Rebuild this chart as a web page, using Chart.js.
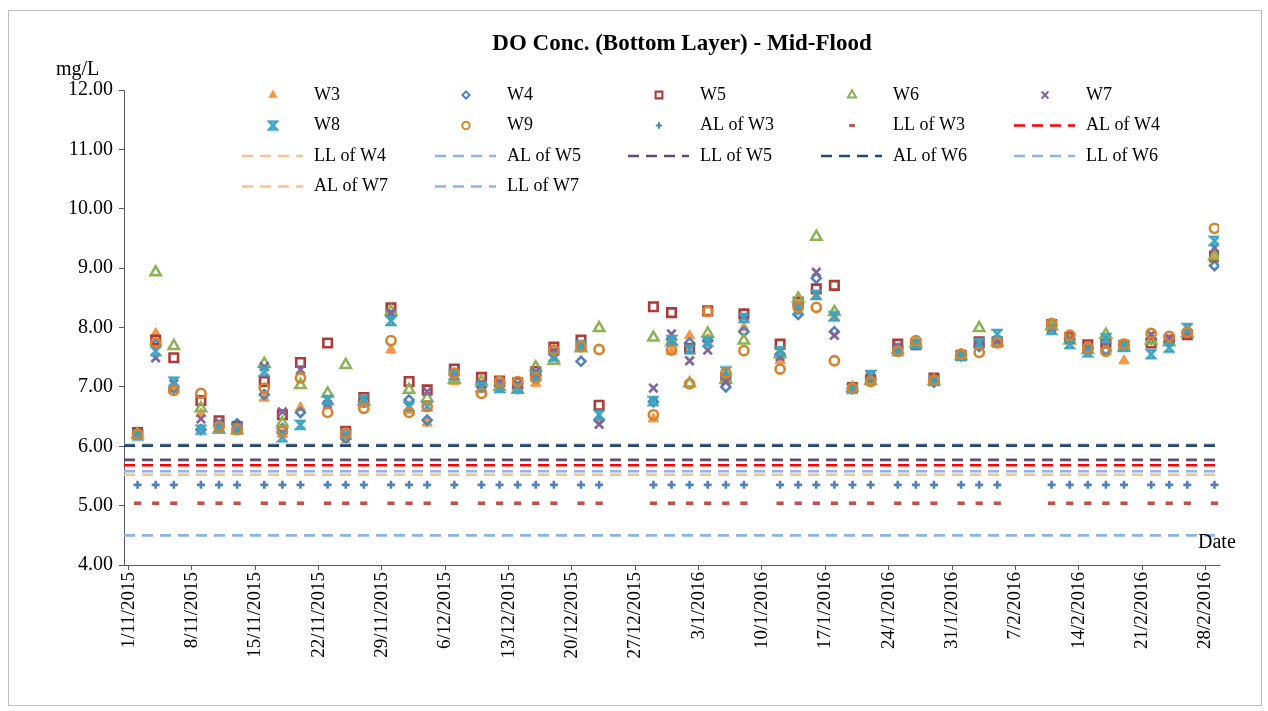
<!DOCTYPE html>
<html>
<head>
<meta charset="utf-8">
<title>DO Conc. (Bottom Layer) - Mid-Flood</title>
<script src="https://cdn.jsdelivr.net/npm/chart.js@4.4.1/dist/chart.umd.min.js"></script>
<style>
  html, body { margin: 0; padding: 0; background: #fff; }
  #wrap { width: 1268px; height: 711px; }
</style>
</head>
<body>
<div id="wrap"><canvas id="myChart" width="1268" height="711"></canvas></div>
<script>
// sampling dates (d/m/yyyy)
var sampleDates = ['2/11/2015', '4/11/2015', '6/11/2015', '9/11/2015', '11/11/2015', '13/11/2015',
    '16/11/2015', '18/11/2015', '20/11/2015', '23/11/2015', '25/11/2015', '27/11/2015',
    '30/11/2015', '2/12/2015', '4/12/2015', '7/12/2015', '10/12/2015', '12/12/2015',
    '14/12/2015', '16/12/2015', '18/12/2015', '21/12/2015', '23/12/2015', '29/12/2015',
    '31/12/2015', '2/1/2016', '4/1/2016', '6/1/2016', '8/1/2016', '12/1/2016',
    '14/1/2016', '16/1/2016', '18/1/2016', '20/1/2016', '22/1/2016', '25/1/2016',
    '27/1/2016', '29/1/2016', '1/2/2016', '3/2/2016', '5/2/2016', '11/2/2016',
    '13/2/2016', '15/2/2016', '17/2/2016', '19/2/2016', '22/2/2016', '24/2/2016',
    '26/2/2016', '29/2/2016'];

var w3 = [6.20, 7.90, 6.95, 6.55, 6.30, 6.25, 6.81, 6.20, 6.65, 6.75, 6.08, 6.70, 7.62, 6.60, 6.39, 7.09, 6.95,
    7.05, 7.00, 7.06, 7.60, 7.68, 6.47, 6.46, 7.60, 7.86, 7.80, 7.15, 8.00, 7.44, 8.45, 8.52, 8.16, 6.98,
    7.10, 7.62, 7.75, 7.10, 7.52, 7.70, 7.72, 8.00, 7.78, 7.65, 7.75, 7.44, 7.82, 7.78, 7.90, 9.15];
var w4 = [6.22, 7.71, 6.98, 6.28, 6.35, 6.38, 6.87, 6.30, 6.57, 6.72, 6.13, 6.75, 8.20, 6.78, 6.44, 7.20, 7.00,
    7.02, 6.97, 7.20, 7.55, 7.43, 6.44, 6.75, 7.80, 7.74, 7.78, 7.00, 7.93, 7.55, 8.22, 8.83, 7.93, 6.97,
    7.15, 7.65, 7.72, 7.08, 7.52, 7.68, 7.77, 8.03, 7.80, 7.63, 7.62, 7.70, 7.80, 7.76, 7.90, 9.04];
var w5 = [6.23, 7.79, 7.49, 6.77, 6.43, 6.33, 7.09, 6.53, 7.41, 7.74, 6.25, 6.82, 8.33, 7.09, 6.95, 7.30, 7.16,
    7.10, 7.07, 7.26, 7.67, 7.79, 6.69, 8.35, 8.25, 7.65, 8.28, 7.15, 8.23, 7.72, 8.43, 8.65, 8.71, 6.99,
    7.12, 7.72, 7.71, 7.15, 7.53, 7.76, 7.76, 8.05, 7.83, 7.71, 7.74, 7.70, 7.74, 7.79, 7.88, 9.20];
var w6 = [6.20, 8.93, 7.69, 6.64, 6.28, 6.27, 7.39, 6.39, 7.03, 6.89, 7.37, 6.75, 8.27, 6.95, 6.81, 7.12, 7.09,
    7.00, 6.95, 7.33, 7.44, 7.65, 7.99, 7.83, 7.75, 7.06, 7.90, 7.12, 7.78, 7.55, 8.49, 9.53, 8.26, 6.98,
    7.10, 7.62, 7.73, 7.10, 7.52, 7.99, 7.75, 8.02, 7.78, 7.62, 7.88, 7.66, 7.78, 7.75, 7.90, 9.20];
var w7 = [6.21, 7.49, 7.05, 6.46, 6.40, 6.32, 7.34, 6.58, 7.29, 6.70, 6.18, 6.78, 8.24, 6.67, 6.92, 7.25, 7.05,
    7.08, 7.05, 7.25, 7.60, 7.72, 6.37, 6.98, 7.89, 7.44, 7.62, 7.09, 8.18, 7.51, 8.35, 8.93, 7.87, 6.97,
    7.18, 7.68, 7.70, 7.12, 7.51, 7.70, 7.78, 7.98, 7.80, 7.65, 7.70, 7.67, 7.88, 7.82, 7.90, 9.34];
var w8 = [6.18, 7.60, 7.09, 6.28, 6.32, 6.30, 7.26, 6.15, 6.36, 6.78, 6.20, 6.78, 8.11, 6.67, 6.67, 7.20, 7.00,
    6.98, 6.98, 7.18, 7.51, 7.70, 6.53, 6.76, 7.79, 7.63, 7.76, 7.26, 8.16, 7.60, 8.30, 8.55, 8.19, 6.97,
    7.20, 7.60, 7.72, 7.10, 7.52, 7.74, 7.89, 7.96, 7.72, 7.58, 7.82, 7.68, 7.55, 7.66, 7.99, 9.46];
var w9 = [6.20, 7.74, 6.94, 6.89, 6.33, 6.28, 6.98, 6.25, 7.15, 6.57, 6.22, 6.64, 7.78, 6.57, 6.67, 7.23, 6.89,
    7.09, 7.09, 7.15, 7.62, 7.68, 7.63, 6.53, 7.62, 7.05, 8.27, 7.23, 7.61, 7.30, 8.34, 8.34, 7.44, 6.98,
    7.09, 7.60, 7.78, 7.11, 7.55, 7.58, 7.74, 8.07, 7.87, 7.66, 7.60, 7.72, 7.90, 7.85, 7.92, 9.67];

// action / limit levels (mg/L)
var alW3 = 5.35, llW3 = 5.04;
var alW4 = 5.68, llW4 = 6.03;
var alW5 = 5.58, llW5 = 5.77;
var alW6 = 6.01, llW6 = 4.50;
var alW7 = 5.52, llW7 = 4.50;

var tickLabels = ['1/11/2015', '8/11/2015', '15/11/2015', '22/11/2015', '29/11/2015', '6/12/2015',
    '13/12/2015', '20/12/2015', '27/12/2015', '3/1/2016', '10/1/2016', '17/1/2016', '24/1/2016',
    '31/1/2016', '7/2/2016', '14/2/2016', '21/2/2016', '28/2/2016'];
var yTicks = [4, 5, 6, 7, 8, 9, 10, 11, 12];

var serif = '"Liberation Serif", "Times New Roman", serif';

// days since 1/11/2015
function dayNum(s) {
    var p = s.split('/').map(Number);
    return (Date.UTC(p[2], p[1] - 1, p[0]) - Date.UTC(2015, 10, 1)) / 86400000;
}

function points(values) {
    return sampleDates.map(function(d, i) { return { x: dayNum(d), y: values[i] }; });
}

function hourglass(color, size) {
    var c = document.createElement('canvas');
    c.width = size; c.height = size;
    var g = c.getContext('2d');
    var a = 2, b = size - 2;
    g.strokeStyle = color;
    g.lineWidth = 2.5;
    g.beginPath();
    g.moveTo(a, a); g.lineTo(b, a); g.lineTo(a, b); g.lineTo(b, b); g.closePath();
    g.stroke();
    return c;
}

document.addEventListener('DOMContentLoaded', function() {
    var xMin = -0.5, xMax = 120.5;
    var none = 'rgba(0,0,0,0)';

    function markers(label, values, style, color, fill, r, bw) {
        return {
            label: label, data: points(values), showLine: false,
            pointStyle: style, pointRadius: r, pointHoverRadius: r,
            borderColor: color, backgroundColor: fill, borderWidth: bw, pointBorderWidth: bw
        };
    }
    function level(label, value, color) {
        return {
            label: label, data: [{ x: xMin, y: value }, { x: xMax, y: value }], showLine: true,
            borderColor: color, backgroundColor: color, borderWidth: 2.6, borderDash: [11, 7],
            pointRadius: 0, pointHoverRadius: 0
        };
    }
    function constPoints(v) { return sampleDates.map(function() { return v; }); }

    var datasets = [
        markers('W3', w3, 'triangle', '#F79646', '#F79646', 6, 1),
        markers('W4', w4, 'rectRot', '#4F81BD', none, 4.5, 2.5),
        markers('W5', w5, 'rect', '#B03A37', none, 6, 2.6),
        markers('W6', w6, 'triangle', '#8DB254', none, 6, 2.5),
        markers('W7', w7, 'crossRot', '#8064A2', none, 6, 2.6),
        markers('W8', w8, hourglass('#3CA3C0', 12), '#3CA3C0', none, 6, 2.5),
        markers('W9', w9, 'circle', '#D9822B', none, 4.6, 2.6),
        markers('AL of W3', constPoints(alW3), 'cross', '#4F81BD', none, 4, 2.6),
        markers('LL of W3', constPoints(llW3), 'line', '#C0504D', none, 3.6, 3.6),
        level('AL of W4', alW4, '#FF0000'),
        level('LL of W4', llW4, '#FAC090'),
        level('AL of W5', alW5, '#8EB4E3'),
        level('LL of W5', llW5, '#604A7B'),
        level('AL of W6', alW6, '#1F497D'),
        level('LL of W6', llW6, '#8EB4E3'),
        level('AL of W7', alW7, '#FAC090'),
        level('LL of W7', llW7, '#8EB4E3')
    ];
    // later series on top, like the spreadsheet
    datasets.forEach(function(ds, i) { ds.order = 100 - i; });

    var labelByDay = {};
    tickLabels.forEach(function(l) { labelByDay[dayNum(l)] = l; });

    var decor = {
        id: 'decor',
        afterDraw: function(chart) {
            var ctx = chart.ctx;
            ctx.save();
            // outer frame
            ctx.strokeStyle = '#bfbfbf';
            ctx.lineWidth = 1;
            ctx.strokeRect(8.5, 10.5, 1253, 695);
            // title and axis captions
            ctx.fillStyle = '#000';
            ctx.textBaseline = 'middle';
            ctx.textAlign = 'center';
            ctx.font = 'bold 23px ' + serif;
            ctx.fillText('DO Conc. (Bottom Layer) - Mid-Flood', 682, 44);
            ctx.textAlign = 'left';
            ctx.font = '20px ' + serif;
            ctx.fillText('mg/L', 56, 70);
            ctx.fillText('Date', 1198, 543);

            // legend grid, 5 columns
            chart.data.datasets.forEach(function(ds, i) {
                var x0 = 242 + (i % 5) * 193;
                var y = 95 + Math.floor(i / 5) * 30.5;
                ctx.save();
                if (ds.showLine) {
                    ctx.strokeStyle = ds.borderColor;
                    ctx.lineWidth = ds.borderWidth;
                    ctx.setLineDash(ds.borderDash);
                    ctx.beginPath();
                    ctx.moveTo(x0, y);
                    ctx.lineTo(x0 + 61, y);
                    ctx.stroke();
                } else {
                    ctx.fillStyle = ds.backgroundColor;
                    ctx.strokeStyle = ds.borderColor;
                    ctx.lineWidth = ds.borderWidth * 0.8;
                    Chart.helpers.drawPoint(ctx, {
                        pointStyle: ds.pointStyle, radius: ds.pointRadius * 0.8,
                        borderWidth: ds.borderWidth * 0.8, rotation: 0
                    }, x0 + 31, y);
                }
                ctx.restore();
                ctx.fillStyle = '#000';
                ctx.font = '18px ' + serif;
                ctx.textAlign = 'left';
                ctx.textBaseline = 'middle';
                ctx.fillText(ds.label, x0 + 72, y);
            });
            ctx.restore();
        }
    };

    var ctx = document.getElementById('myChart').getContext('2d');
    var myChart = new Chart(ctx, {
        type: 'scatter',
        data: { datasets: datasets },
        options: {
            responsive: false,
            animation: false,
            devicePixelRatio: 1,
            layout: { padding: { top: 90, right: 49, left: 0, bottom: 0 } },
            plugins: {
                legend: { display: false },
                title: { display: false },
                tooltip: { enabled: false }
            },
            scales: {
                x: {
                    type: 'linear',
                    min: xMin,
                    max: xMax,
                    afterBuildTicks: function(scale) {
                        scale.ticks = tickLabels.map(function(l) { return { value: dayNum(l) }; });
                    },
                    afterFit: function(scale) { scale.height = 146; },
                    ticks: {
                        autoSkip: false,
                        minRotation: 90,
                        maxRotation: 90,
                        padding: 2,
                        color: '#000',
                        font: { family: serif, size: 19 },
                        callback: function(v) { return labelByDay[v] || ''; }
                    },
                    grid: { drawOnChartArea: false, drawTicks: true, tickLength: 5, color: '#595959' },
                    border: { color: '#595959', width: 1 }
                },
                y: {
                    min: 4,
                    max: 12,
                    afterBuildTicks: function(scale) {
                        scale.ticks = yTicks.map(function(v) { return { value: v }; });
                    },
                    afterFit: function(scale) { scale.width = 124; },
                    ticks: {
                        padding: 6,
                        color: '#000',
                        font: { family: serif, size: 20 },
                        callback: function(v) { return Number(v).toFixed(2); }
                    },
                    grid: { drawOnChartArea: false, drawTicks: true, tickLength: 5, color: '#595959' },
                    border: { color: '#595959', width: 1 }
                }
            }
        },
        plugins: [decor]
    });
});
</script>
</body>
</html>
